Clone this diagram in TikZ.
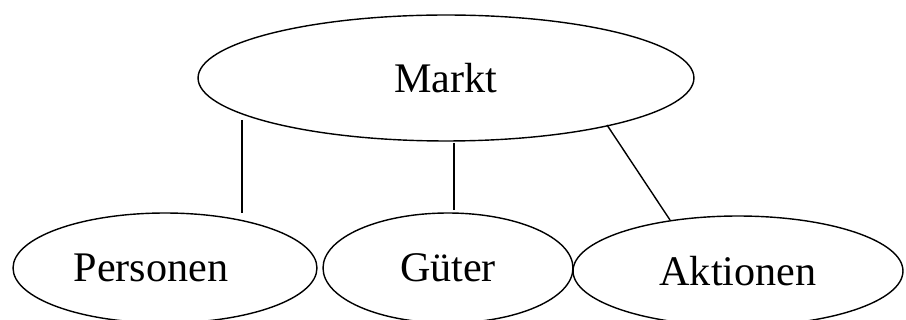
\documentclass[tikz,border=0pt]{standalone}
\usepackage{fontspec}
\setmainfont{Liberation Serif}
\usetikzlibrary{shapes.geometric}

\begin{document}
\begin{tikzpicture}[x=0.02cm,y=-0.02cm,
	blob/.style={draw,ellipse,inner sep=0pt,line width=0.8pt,font=\fontsize{24}{28}\selectfont}]
	\useasboundingbox (0,0) rectangle (906,320);
	\node (markt) [blob,minimum width=9.92cm,minimum height=2.52cm] at (446,78) {Markt};
	\node (personen) [blob,minimum width=6.08cm,minimum height=2.2cm] at (165,268) {Personen\rule{0.56cm}{0pt}};
	\node (gueter) [blob,minimum width=5cm,minimum height=2.2cm] at (448,268) {Güter};
	\node (aktionen) [blob,minimum width=6.6cm,minimum height=2.2cm] at (738,271) {Aktionen};
	\coordinate (m1) at (242,120);
	\coordinate (m2) at (454,143);
	\coordinate (m3) at (607,125);
	\coordinate (p1) at (242,213);
	\coordinate (g1) at (454,210);
	\coordinate (a1) at (670,220);
	\draw[line width=0.8pt] (m1) -- (p1);
	\draw[line width=0.8pt] (m2) -- (g1);
	\draw[line width=0.8pt] (m3) -- (a1);
\end{tikzpicture}
\end{document}
